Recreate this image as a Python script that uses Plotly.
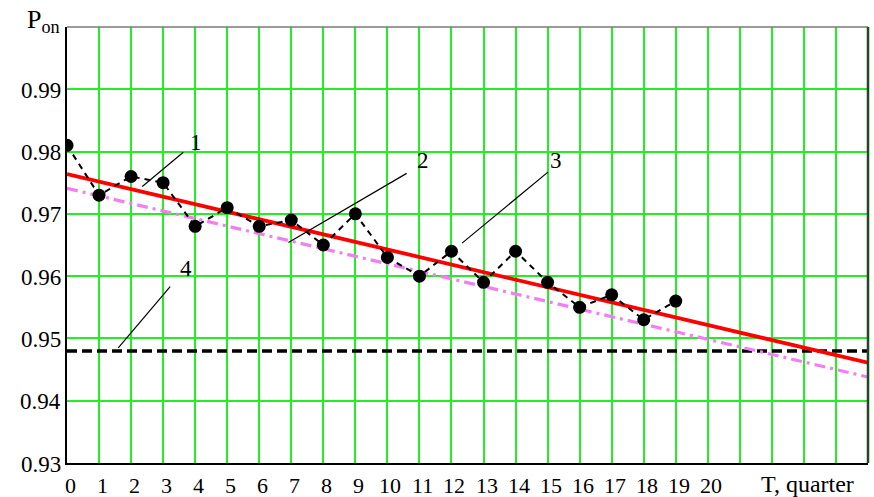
import plotly.graph_objects as go

# ---- data ----
quarters = list(range(0, 20))
p_on = [0.981, 0.973, 0.976, 0.975, 0.968, 0.971, 0.968, 0.969, 0.965, 0.970,
        0.963, 0.960, 0.964, 0.959, 0.964, 0.959, 0.955, 0.957, 0.953, 0.956]

trend_x = [0, 25]
trend_red = [0.9764, 0.9461]      # curve 3 (solid red)
trend_pink = [0.9741, 0.9438]     # curve 2 (dash-dot violet)
level_4 = [0.948, 0.948]          # curve 4 (black dashed level)

x_gridvals = list(range(0, 26))
x_tickvals = list(range(0, 21))
x_ticktext = [str(v) for v in x_tickvals]
y_tickvals = [0.93, 0.94, 0.95, 0.96, 0.97, 0.98, 0.99]
y_ticktext = ["0.93", "0.94", "0.95", "0.96", "0.97", "0.98", "0.99"]

# leader lines: (x0, y0, x1, y1) and labels
leaders = [
    (3.63, 0.9799, 2.35, 0.9744),
    (10.60, 0.9765, 6.91, 0.9654),
    (15.01, 0.9767, 12.33, 0.9653),
    (3.22, 0.9583, 1.60, 0.9485),
]
label_text = ["1", "2", "3", "4"]
label_x = [4.02, 11.11, 15.26, 3.72]
label_y = [0.9815, 0.9786, 0.9786, 0.9613]

FONT = "Liberation Serif"
GRID = "#22ee22"

fig = go.Figure()

fig.add_trace(go.Scatter(x=trend_x, y=level_4, mode="lines",
                         line=dict(color="black", width=3.5, dash="10px,5px"),
                         hoverinfo="skip"))
fig.add_trace(go.Scatter(x=trend_x, y=trend_pink, mode="lines",
                         line=dict(color="#f27ff2", width=3.2, dash="11px,5px,3px,5px"),
                         hoverinfo="skip"))
fig.add_trace(go.Scatter(x=trend_x, y=trend_red, mode="lines",
                         line=dict(color="#ff0000", width=3.8),
                         hoverinfo="skip"))
fig.add_trace(go.Scatter(x=quarters, y=p_on, mode="lines+markers",
                         line=dict(color="black", width=2, dash="6px,5px"),
                         marker=dict(color="black", size=13)))

shapes = []
for (x0, y0, x1, y1) in leaders:
    shapes.append(dict(type="line", xref="x", yref="y", x0=x0, y0=y0, x1=x1, y1=y1,
                       line=dict(color="black", width=1.2)))
# top and right frame
shapes.append(dict(type="line", xref="paper", yref="paper", x0=0, y0=1, x1=1, y1=1,
                   line=dict(color="#7a7a7a", width=1.5)))
shapes.append(dict(type="line", xref="paper", yref="paper", x0=1, y0=0, x1=1, y1=1,
                   line=dict(color="#1f4a1f", width=2.5)))

annotations = []
for t, lx, ly in zip(label_text, label_x, label_y):
    annotations.append(dict(x=lx, y=ly, xref="x", yref="y", text=t, showarrow=False,
                            font=dict(family=FONT, size=23, color="black")))
# tick labels drawn as text
for v, t in zip(x_tickvals, x_ticktext):
    annotations.append(dict(x=v, y=0, xref="x", yref="paper", text=t, showarrow=False,
                            xanchor="center", yanchor="middle", xshift=3, yshift=-22,
                            font=dict(family=FONT, size=22, color="black")))
for v, t in zip(y_tickvals, y_ticktext):
    annotations.append(dict(x=0, y=v, xref="paper", yref="y", text=t, showarrow=False,
                            xanchor="right", yanchor="middle", xshift=-4, yshift=-1,
                            font=dict(family=FONT, size=23, color="black")))
annotations.append(dict(x=0, y=1, xref="paper", yref="paper", xanchor="right",
                        yanchor="middle", xshift=-5, yshift=6, showarrow=False,
                        text="P<sub>on</sub>",
                        font=dict(family=FONT, size=26, color="black")))
annotations.append(dict(x=23.1, y=0, xref="x", yref="paper", xanchor="center",
                        yanchor="middle", yshift=-21, showarrow=False,
                        text="T, quarter",
                        font=dict(family=FONT, size=24, color="black")))

fig.update_layout(
    width=874, height=497,
    margin=dict(l=67, r=6, t=27, b=34),
    paper_bgcolor="white", plot_bgcolor="white",
    showlegend=False,
    shapes=shapes, annotations=annotations,
    font=dict(family=FONT, size=23, color="black"),
    xaxis=dict(range=[0, 25], tickmode="array", tickvals=x_gridvals,
               showticklabels=False,
               showgrid=True, gridcolor=GRID, gridwidth=1.7, zeroline=False,
               showline=True, linecolor="black", linewidth=1.5, ticks=""),
    yaxis=dict(range=[0.93, 1.0], tickmode="array", tickvals=y_tickvals,
               showticklabels=False,
               showgrid=True, gridcolor=GRID, gridwidth=1.7, zeroline=False,
               showline=True, linecolor="black", linewidth=1.5, ticks=""),
)

fig.write_html("out.html",
               config={"displayModeBar": False},
               post_script="document.body.style.margin='0px';"
                           "document.body.style.overflow='hidden';")
